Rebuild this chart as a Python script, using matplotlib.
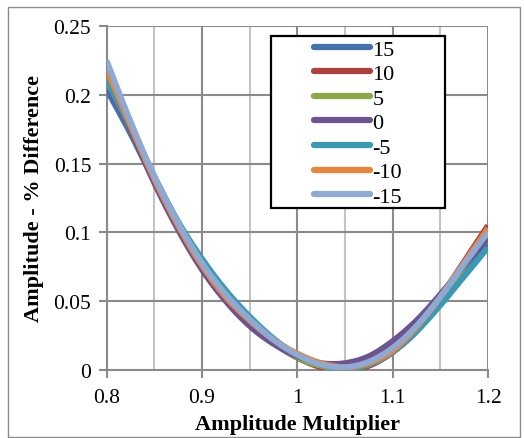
import numpy as np
import matplotlib
matplotlib.use("Agg")
import matplotlib.pyplot as plt
from matplotlib.patches import Rectangle

SERIF = 'Liberation Serif'
plt.rcParams['font.family'] = 'serif'
plt.rcParams['font.serif'] = [SERIF]

x = [0.8, 0.825, 0.85, 0.875, 0.9, 0.925, 0.95, 0.975, 1.0,
     1.025, 1.05, 1.075, 1.1, 1.125, 1.15, 1.175, 1.2]

s_15 = [0.204, 0.172, 0.137, 0.104, 0.076, 0.053, 0.035, 0.020, 0.009,
        0.003, 0.001, 0.004, 0.013, 0.028, 0.049, 0.070, 0.091]
s_10 = [0.214, 0.176, 0.138, 0.104, 0.076, 0.053, 0.035, 0.020, 0.009,
        0.002, 0.000, 0.003, 0.013, 0.030, 0.053, 0.079, 0.105]
s_5 = [0.211, 0.175, 0.138, 0.104, 0.076, 0.053, 0.035, 0.020, 0.009,
       0.003, 0.001, 0.004, 0.013, 0.029, 0.051, 0.075, 0.099]
s_0 = [0.208, 0.175, 0.136, 0.102, 0.073, 0.050, 0.032, 0.019, 0.010,
       0.005, 0.005, 0.010, 0.021, 0.036, 0.055, 0.076, 0.096]
s_m5 = [0.210, 0.177, 0.141, 0.108, 0.081, 0.058, 0.039, 0.023, 0.011,
        0.004, 0.001, 0.004, 0.013, 0.028, 0.047, 0.068, 0.089]
s_m10 = [0.219, 0.178, 0.139, 0.105, 0.076, 0.053, 0.036, 0.022, 0.012,
         0.005, 0.002, 0.005, 0.014, 0.031, 0.053, 0.078, 0.103]
s_m15 = [0.225, 0.181, 0.141, 0.107, 0.078, 0.055, 0.037, 0.022, 0.011,
         0.004, 0.002, 0.006, 0.016, 0.032, 0.053, 0.077, 0.100]

labels = ['15', '10', '5', '0', '-5', '-10', '-15']
series = [s_15, s_10, s_5, s_0, s_m5, s_m10, s_m15]
colors = ['#4272AE', '#B0403D', '#8AAA4A', '#6E5393', '#3A9AB4', '#E9843A', '#8EAAD3']

xticks = [0.8, 0.9, 1.0, 1.1, 1.2]
xticklabels = ['0.8', '0.9', '1', '1.1', '1.2']
yticks = [0, 0.05, 0.1, 0.15, 0.2, 0.25]
yticklabels = ['0', '0.05', '0.1', '0.15', '0.2', '0.25']


def smooth(xs, ys, n=20):
    # Catmull-Rom rendering of the polyline (like Excel smoothed lines)
    xs = np.asarray(xs, float); ys = np.asarray(ys, float)
    P = np.column_stack([xs, ys])
    P = np.vstack([2 * P[0] - P[1], P, 2 * P[-1] - P[-2]])
    out = []
    t = np.linspace(0, 1, n, endpoint=False)[:, None]
    for i in range(1, len(P) - 2):
        p0, p1, p2, p3 = P[i - 1], P[i], P[i + 1], P[i + 2]
        seg = 0.5 * ((2 * p1) + (-p0 + p2) * t + (2 * p0 - 5 * p1 + 4 * p2 - p3) * t ** 2
                     + (-p0 + 3 * p1 - 3 * p2 + p3) * t ** 3)
        out.append(seg)
    out.append(P[-2][None, :])
    out = np.vstack(out)
    return out[:, 0], out[:, 1]


W, H = 524, 439
fig = plt.figure(figsize=(W / 100, H / 100), dpi=100)
AX_L, AX_R, AX_T, AX_B = 106.5, 488, 27, 371
ax = fig.add_axes([AX_L / W, 1 - AX_B / H, (AX_R - AX_L) / W, (AX_B - AX_T) / H])

# outer border
fig.patches.append(Rectangle((7.5 / W, 1.5 / H), 512 / W, 430 / H, transform=fig.transFigure,
                             fill=False, edgecolor='#8c8c8c', linewidth=1.0))

ax.set_xlim(0.8, 1.2)
ax.set_ylim(0, 0.25)

major_c = '#8a8a8a'
minor_c = '#c4c4c4'
for xv in [0.85, 0.95, 1.05, 1.15]:
    ax.axvline(xv, color=minor_c, lw=1.5, zorder=0)
for xv in [0.9, 1.0, 1.1, 1.2]:
    ax.axvline(xv, color=major_c, lw=1.5, zorder=0)
for yv in yticks[1:]:
    ax.axhline(yv, color=major_c, lw=1.5, zorder=0)

for s in ['top', 'right']:
    ax.spines[s].set_visible(False)
for s in ['left', 'bottom']:
    ax.spines[s].set_color(major_c)
    ax.spines[s].set_linewidth(1.5)

for ys, c, lab in zip(series, colors, labels):
    sx, sy = smooth(x, ys)
    ax.plot(sx, sy, color=c, lw=4.2, label=lab, solid_capstyle='butt', zorder=3)

ax.set_xticks(xticks)
ax.set_xticklabels(xticklabels, family=SERIF)
ax.set_yticks(yticks)
ax.set_yticklabels(yticklabels, family=SERIF)
ax.tick_params(axis='both', direction='out', length=6, width=1.5, color=major_c,
               labelsize=15.5)
ax.tick_params(axis='x', pad=7)
ax.tick_params(axis='y', pad=5)

ax.set_xlabel('Amplitude Multiplier', fontsize=16, fontweight='bold', labelpad=5, family=SERIF)
ax.set_ylabel('Amplitude - % Difference', fontsize=16, fontweight='bold', labelpad=7, family=SERIF)

# legend: custom frame box, legend entries inside without frame
def fx(px):
    return (px - AX_L) / (AX_R - AX_L)

def fy(py):
    return (AX_B - py) / (AX_B - AX_T)

frame = Rectangle((fx(271), fy(209)), fx(445) - fx(271), fy(37) - fy(209),
                  transform=ax.transAxes, facecolor='white', edgecolor='black',
                  linewidth=1.6, zorder=5)
ax.add_patch(frame)

leg = ax.legend(loc='upper left', bbox_to_anchor=(fx(314), fy(40)),
                frameon=False, handlelength=2.5,
                handletextpad=0.12, labelspacing=0.18, borderpad=0.0,
                borderaxespad=0, prop={'family': SERIF, 'size': 16})
leg.set_zorder(6)
for h in leg.get_lines():
    h.set_linewidth(4.5)
    h.set_solid_capstyle('round')

fig.savefig('out.png', dpi=100)
